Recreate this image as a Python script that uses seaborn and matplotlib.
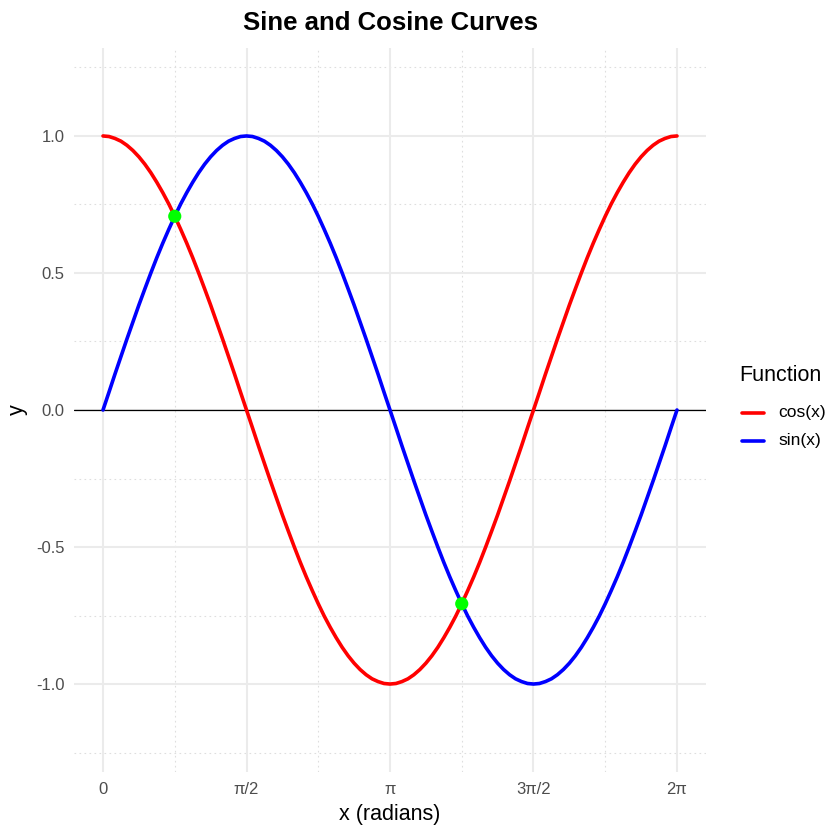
import matplotlib
matplotlib.use("Agg")
import matplotlib.pyplot as plt
import seaborn as sns
import pandas as pd
from matplotlib.lines import Line2D

sns.set_style("white")
plt.rcParams["font.family"] = ["Liberation Sans", "DejaVu Sans"]
plt.rcParams["text.color"] = "black"

# Sample positions (radians) and curve values
x_vals = [0.0000, 0.0654, 0.1309, 0.1963, 0.2618, 0.3272, 0.3927, 0.4581, 0.5236, 0.5890,
          0.6545, 0.7199, 0.7854, 0.8508, 0.9163, 0.9817, 1.0472, 1.1126, 1.1781, 1.2435,
          1.3090, 1.3744, 1.4399, 1.5053, 1.5708, 1.6362, 1.7017, 1.7671, 1.8326, 1.8980,
          1.9635, 2.0289, 2.0944, 2.1598, 2.2253, 2.2907, 2.3562, 2.4216, 2.4871, 2.5525,
          2.6180, 2.6834, 2.7489, 2.8143, 2.8798, 2.9452, 3.0107, 3.0761, 3.1416, 3.2070,
          3.2725, 3.3379, 3.4034, 3.4688, 3.5343, 3.5997, 3.6652, 3.7306, 3.7961, 3.8615,
          3.9270, 3.9924, 4.0579, 4.1233, 4.1888, 4.2542, 4.3197, 4.3851, 4.4506, 4.5160,
          4.5815, 4.6469, 4.7124, 4.7778, 4.8433, 4.9087, 4.9742, 5.0396, 5.1051, 5.1705,
          5.2360, 5.3014, 5.3669, 5.4323, 5.4978, 5.5632, 5.6287, 5.6941, 5.7596, 5.8250,
          5.8905, 5.9559, 6.0214, 6.0868, 6.1523, 6.2177, 6.2832]
sin_vals = [0.000, 0.065, 0.131, 0.195, 0.259, 0.321, 0.383, 0.442, 0.500, 0.556,
            0.609, 0.659, 0.707, 0.752, 0.793, 0.831, 0.866, 0.897, 0.924, 0.947,
            0.966, 0.981, 0.991, 0.998, 1.000, 0.998, 0.991, 0.981, 0.966, 0.947,
            0.924, 0.897, 0.866, 0.831, 0.793, 0.752, 0.707, 0.659, 0.609, 0.556,
            0.500, 0.442, 0.383, 0.321, 0.259, 0.195, 0.131, 0.065, 0.000, -0.065,
            -0.131, -0.195, -0.259, -0.321, -0.383, -0.442, -0.500, -0.556, -0.609, -0.659,
            -0.707, -0.752, -0.793, -0.831, -0.866, -0.897, -0.924, -0.947, -0.966, -0.981,
            -0.991, -0.998, -1.000, -0.998, -0.991, -0.981, -0.966, -0.947, -0.924, -0.897,
            -0.866, -0.831, -0.793, -0.752, -0.707, -0.659, -0.609, -0.556, -0.500, -0.442,
            -0.383, -0.321, -0.259, -0.195, -0.131, -0.065, 0.000]
cos_vals = [1.000, 0.998, 0.991, 0.981, 0.966, 0.947, 0.924, 0.897, 0.866, 0.831,
            0.793, 0.752, 0.707, 0.659, 0.609, 0.556, 0.500, 0.442, 0.383, 0.321,
            0.259, 0.195, 0.131, 0.065, 0.000, -0.065, -0.131, -0.195, -0.259, -0.321,
            -0.383, -0.442, -0.500, -0.556, -0.609, -0.659, -0.707, -0.752, -0.793, -0.831,
            -0.866, -0.897, -0.924, -0.947, -0.966, -0.981, -0.991, -0.998, -1.000, -0.998,
            -0.991, -0.981, -0.966, -0.947, -0.924, -0.897, -0.866, -0.831, -0.793, -0.752,
            -0.707, -0.659, -0.609, -0.556, -0.500, -0.442, -0.383, -0.321, -0.259, -0.195,
            -0.131, -0.065, 0.000, 0.065, 0.131, 0.195, 0.259, 0.321, 0.383, 0.442,
            0.500, 0.556, 0.609, 0.659, 0.707, 0.752, 0.793, 0.831, 0.866, 0.897,
            0.924, 0.947, 0.966, 0.981, 0.991, 0.998, 1.000]
functions = ["cos(x)", "sin(x)"]
colors = ["#FF0000", "#0000FF"]

# Intersection points
inter_x = [0.7854, 3.9270]
inter_y = [0.707, -0.707]

# Axis ticks
x_major = [0.0, 1.5708, 3.1416, 4.7124, 6.2832]
x_major_labels = ["0", "π/2", "π", "3π/2", "2π"]
x_minor = [0.7854, 2.3562, 3.9270, 5.4978]
y_major = [-1.0, -0.5, 0.0, 0.5, 1.0]
y_major_labels = ["-1.0", "-0.5", "0.0", "0.5", "1.0"]
y_minor = [-1.25, -0.75, -0.25, 0.25, 0.75, 1.25]

df = pd.DataFrame({
    "x": x_vals + x_vals,
    "y": cos_vals + sin_vals,
    "Function": [functions[0]] * len(x_vals) + [functions[1]] * len(x_vals),
})

fig = plt.figure(figsize=(8.4, 8.4), dpi=100)
ax = fig.add_axes([74.3 / 840, 1 - 772 / 840, (705.7 - 74.3) / 840, 724 / 840])

# grid
for v in x_minor:
    ax.axvline(v, color="#DEDEDE", lw=0.8, ls=(0, (1.5, 3)), zorder=0)
for v in y_minor:
    ax.axhline(v, color="#DEDEDE", lw=0.8, ls=(0, (1.5, 3)), zorder=0)
for v in x_major:
    ax.axvline(v, color="#EBEBEB", lw=1.5, zorder=0)
for v in y_major:
    ax.axhline(v, color="#EBEBEB", lw=1.5, zorder=0)

ax.axhline(0, color="black", lw=0.9, zorder=1)

sns.lineplot(data=df, x="x", y="y", hue="Function", hue_order=functions,
             palette=colors, lw=2.6, legend=False, ax=ax, zorder=2, sort=False)
sns.scatterplot(x=inter_x, y=inter_y, color="#00FF00", s=90, edgecolor="none",
                ax=ax, zorder=3)

ax.set_xlim(-0.3142, 6.5974)
ax.set_ylim(-1.321, 1.321)
ax.set_xticks(x_major)
ax.set_xticklabels(x_major_labels)
ax.set_yticks(y_major)
ax.set_yticklabels(y_major_labels)
ax.tick_params(axis="both", length=0, labelsize=12, labelcolor="#4D4D4D")
ax.tick_params(axis="x", pad=7.5)
ax.tick_params(axis="y", pad=7)
for s in ax.spines.values():
    s.set_visible(False)
ax.grid(False)

ax.set_xlabel("x (radians)", fontsize=15.5, color="black", labelpad=5)
ax.set_ylabel("y", fontsize=15.5, color="black", labelpad=6)
ax.set_title("Sine and Cosine Curves", fontsize=18.5, fontweight="bold",
             color="black", pad=13)

# legend
fig.text(739 / 840, 1 - 376 / 840, "Function", fontsize=15.5, color="black",
         ha="left", va="center")
for i, (lab, c) in enumerate(zip(functions, colors)):
    yy = 1 - (413 + 28 * i) / 840
    fig.add_artist(Line2D([742 / 840, 764 / 840], [yy, yy], transform=fig.transFigure,
                          color=c, lw=2.6))
    fig.text(778 / 840, yy, lab, fontsize=12.5, color="black", ha="left", va="center")

fig.savefig("out.png", dpi=100, facecolor="white")
